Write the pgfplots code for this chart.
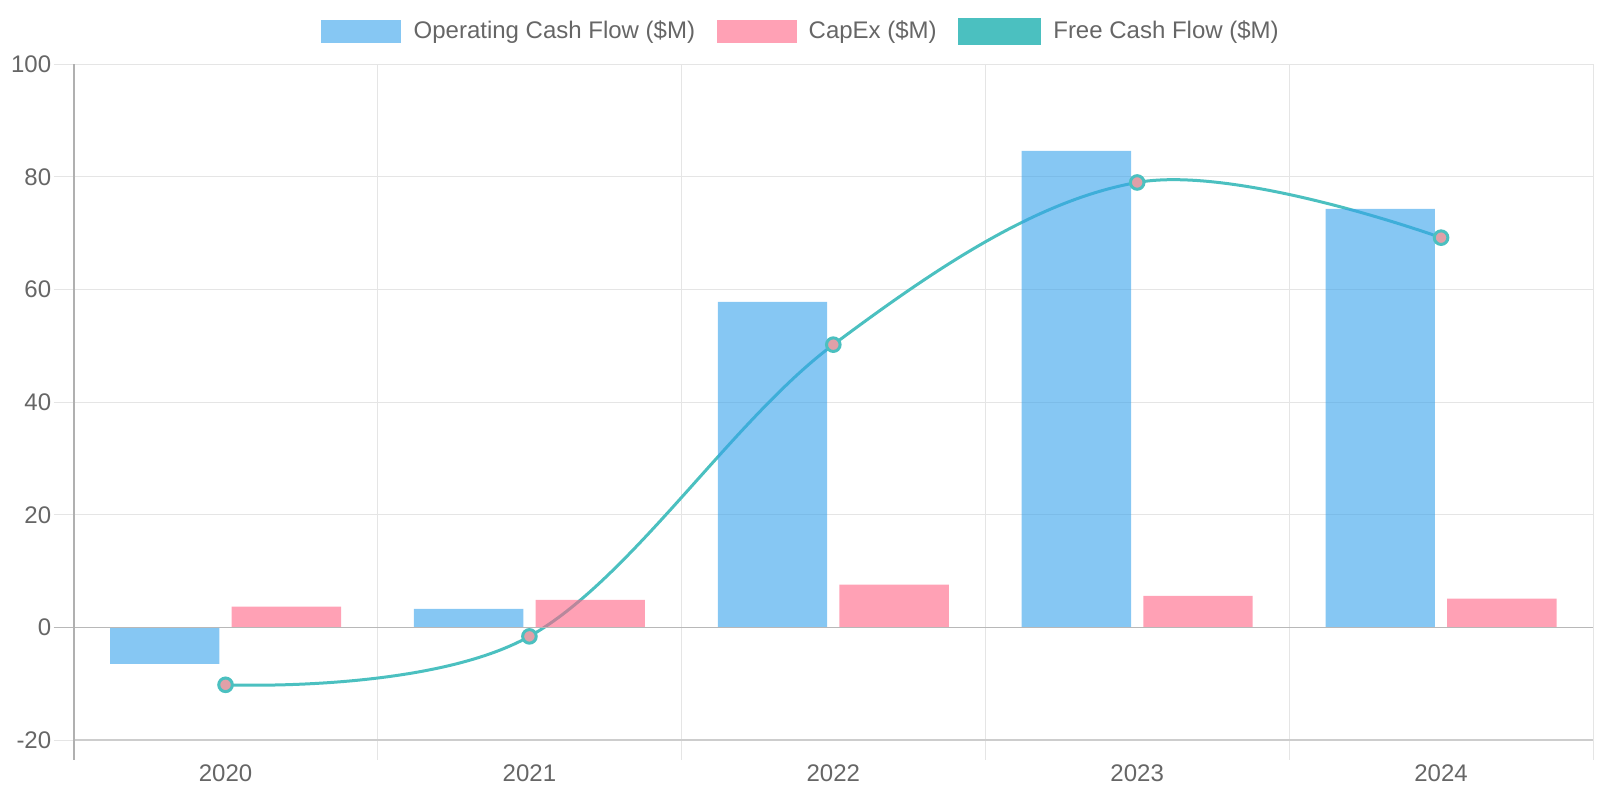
\documentclass[border=0pt]{standalone}
\usepackage{pgfplots}
\pgfplotsset{compat=1.18}
\usepackage{fontspec}
\setmainfont{Liberation Sans}
\definecolor{ocf}{RGB}{54,162,235}
\definecolor{capex}{RGB}{255,99,132}
\definecolor{fcf}{RGB}{75,192,192}
\definecolor{mk}{RGB}{225,160,168}
\definecolor{gridc}{RGB}{229,229,229}
\definecolor{axc}{RGB}{176,176,176}
\definecolor{zeroc}{RGB}{184,184,184}
\definecolor{botc}{RGB}{205,205,205}
\definecolor{txt}{RGB}{102,102,102}
\begin{document}
\begin{tikzpicture}[font=\fontsize{12}{14}\selectfont]
\useasboundingbox (-36.8pt,-30pt) rectangle (763.2pt,370pt);
\begin{axis}[
  name=ax,
  scale only axis, width=759.7pt, height=337.9pt,
  xmin=-0.5, xmax=4.5, ymin=-20, ymax=100,
  clip=false,
  axis line style={draw=none},
  xtick={0,1,2,3,4}, xticklabels={2020,2021,2022,2023,2024},
  minor xtick={-0.5,0.5,1.5,2.5,3.5,4.5},
  ytick={-20,0,20,40,60,80,100}, yticklabels={-20,0,20,40,60,80,100},
  xtick pos=lower, ytick pos=left,
  tick align=outside, major tick length=10pt, minor tick length=10pt,
  every major x tick/.append style={draw=none},
  every minor x tick/.append style={draw=gridc, line width=0.5pt},
  every major y tick/.append style={draw=gridc, line width=0.5pt},
  ymajorgrids, xminorgrids,
  major grid style={draw=gridc, line width=0.5pt},
  minor grid style={draw=gridc, line width=0.5pt},
  tick label style={text=txt, font=\fontsize{12}{14}\selectfont},
  xticklabel style={inner sep=2pt},
  yticklabel style={inner sep=1pt},
  legend image code/.code={\path[#1] (0pt,-5.9pt) rectangle (40pt,5.9pt);},
  legend style={at={(0.5,1)}, anchor=center, xshift=-16.6pt, yshift=16.3pt,
    draw=none, fill=none, legend columns=-1, text=txt,
    font=\fontsize{12}{14}\selectfont, cells={anchor=west},
    nodes={inner sep=0pt},
    /tikz/every odd column/.append style={column sep=6.1pt},
    /tikz/every even column/.append style={column sep=10.7pt}},
]
\addplot[fcf, line width=1.5pt, smooth, tension=0.6, mark=*, mark size=3.4pt,
  mark options={fill=mk, draw=fcf, line width=1.5pt}, forget plot]
  coordinates {(0,-10.2) (1,-1.6) (2,50.2) (3,79.0) (4,69.2)};
\addplot[ybar, bar width=0.36, bar shift=-0.2, fill=ocf, fill opacity=0.6, draw=none, forget plot]
  coordinates {(0,-6.5) (1,3.3) (2,57.8) (3,84.6) (4,74.3)};
\addplot[ybar, bar width=0.36, bar shift=0.2, fill=capex, fill opacity=0.6, draw=none, forget plot]
  coordinates {(0,3.7) (1,4.9) (2,7.6) (3,5.6) (4,5.1)};
\draw[zeroc, line width=0.6pt] ([xshift=-10pt]axis cs:-0.5,0) -- (axis cs:4.5,0);
\addlegendimage{fill=ocf, fill opacity=0.6, draw=none}
\addlegendentry{Operating Cash Flow (\$M)}
\addlegendimage{fill=capex, fill opacity=0.6, draw=none}
\addlegendentry{CapEx (\$M)}
\addlegendimage{fill=fcf, draw=fcf, line width=1.5pt}
\addlegendentry{Free Cash Flow (\$M)}
\end{axis}
\draw[botc, line width=0.6pt] (ax.south west) -- (ax.south east);
\draw[axc, line width=1pt] (ax.north west) -- ([yshift=-10pt]ax.south west);
\end{tikzpicture}
\end{document}
